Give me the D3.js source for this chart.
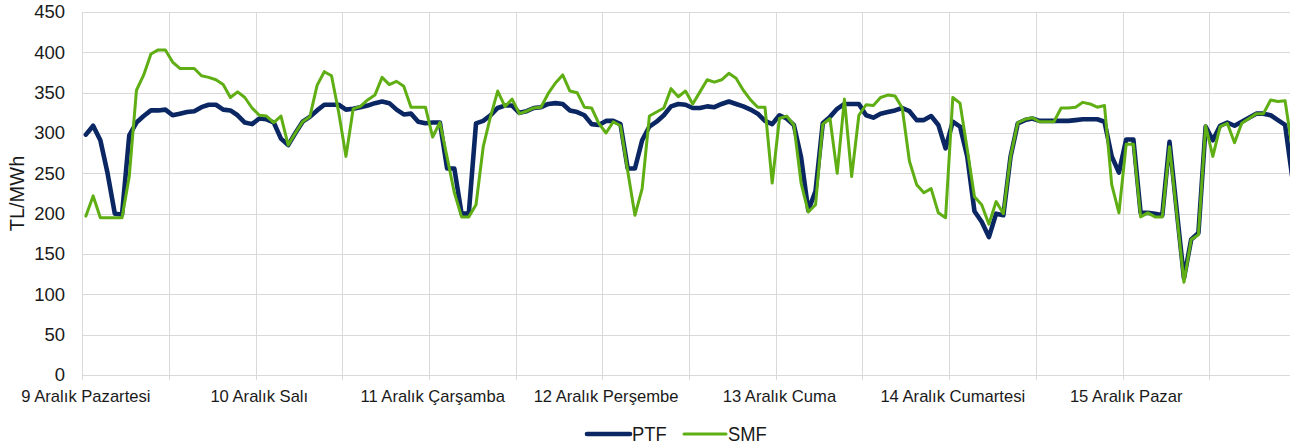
<!DOCTYPE html>
<html>
<head>
<meta charset="utf-8">
<script src="https://cdn.jsdelivr.net/npm/d3@7"></script>
<style>
  html, body { margin: 0; padding: 0; background: #fff; }
  svg { display: block; font-family: "Liberation Sans", Arial, sans-serif; }
</style>
</head>
<body>
<svg id="chart" width="1290" height="448"></svg>
<script>
const dayLabels = ["9 Aralık Pazartesi", "10 Aralık Salı", "11 Aralık Çarşamba", "12 Aralık Perşembe",
                   "13 Aralık Cuma", "14 Aralık Cumartesi", "15 Aralık Pazar"];
const hoursPerDay = 24;
const seriesNames = ["PTF", "SMF"];
const yTicks = [0, 50, 100, 150, 200, 250, 300, 350, 400, 450];
const yTitle = "TL/MWh";

const ptf = [
  298, 309, 291, 250, 200, 199, 297, 313, 321, 328, 328, 329, 322, 324, 326, 327, 332, 335, 335, 329, 328, 322, 313, 311,
  318, 317, 313, 293, 285, 300, 314, 320, 328, 335, 335, 335, 329, 330, 332, 334, 337, 339, 337, 329, 323, 324, 314, 312,
  313, 313, 256, 256, 200, 200, 312, 315, 322, 331, 334, 334, 325, 327, 331, 332, 336, 337, 336, 328, 326, 322, 311, 310,
  315, 315, 311, 256, 256, 291, 308, 314, 322, 333, 336, 335, 331, 331, 333, 332, 336, 339, 336, 333, 329, 324, 315, 311,
  322, 318, 310, 270, 204, 228, 312, 320, 330, 336, 336, 336, 322, 319, 324, 326, 328, 331, 327, 316, 316, 321, 310, 281,
  314, 308, 271, 203, 190, 171, 200, 198, 271, 312, 316, 318, 315, 315, 315, 315, 315, 316, 317, 317, 317, 314, 271, 251,
  292, 292, 201, 201, 200, 198, 289, 204, 120, 168, 176, 308, 291, 309, 313, 309, 314, 319, 324, 324, 322, 316, 310, 245
];
const smf = [
  197, 222, 195, 195, 195, 195, 246, 353, 372, 398, 403, 403, 388, 380, 380, 380, 371, 369, 366, 360, 344, 351, 344, 331,
  322, 321, 313, 321, 285, 300, 314, 320, 359, 376, 371, 325, 271, 330, 333, 341, 347, 369, 360, 364, 358, 332, 332, 332,
  295, 313, 270, 226, 196, 196, 211, 283, 320, 352, 333, 342, 324, 327, 331, 332, 349, 362, 372, 352, 350, 332, 331, 312,
  300, 314, 309, 253, 198, 231, 321, 326, 331, 355, 345, 352, 336, 351, 366, 363, 366, 374, 368, 353, 341, 332, 332, 238,
  318, 321, 310, 238, 202, 211, 311, 318, 250, 342, 246, 322, 335, 334, 344, 347, 346, 331, 265, 236, 226, 231, 201, 195,
  344, 337, 280, 221, 211, 187, 215, 200, 271, 313, 317, 319, 314, 314, 314, 331, 331, 332, 338, 336, 332, 334, 236, 201,
  286, 286, 196, 201, 196, 196, 283, 200, 115, 168, 174, 309, 271, 308, 312, 288, 312, 318, 324, 324, 341, 339, 340, 280
];
const seriesColors = ["#0b2763", "#5fae14"];

const svg = d3.select("#chart");
const nCat = dayLabels.length * hoursPerDay;
const left = 82.3, catW = 7.224;
const plotTop = 12, plotBottom = 375;

const x = d3.scaleBand().domain(d3.range(nCat)).range([left, left + nCat * catW]).padding(0);
const bw = x.bandwidth();
const y = d3.scaleLinear().domain([0, 450]).range([plotBottom, plotTop]);

// horizontal gridlines
svg.append("g").selectAll("line").data(yTicks).join("line")
  .attr("x1", left).attr("x2", left + nCat * catW)
  .attr("y1", d => Math.round(y(d)) + 0.5).attr("y2", d => Math.round(y(d)) + 0.5)
  .attr("stroke", "#d9d9d9").attr("stroke-width", 1);

// vertical gridlines every 12 categories + tick marks
const vIdx = d3.range(0, nCat + 1, 12);
const xb = i => i < nCat ? x(i) : x(nCat - 1) + bw;
svg.append("g").selectAll("line").data(vIdx).join("line")
  .attr("x1", d => Math.round(xb(d)) + 0.5).attr("x2", d => Math.round(xb(d)) + 0.5)
  .attr("y1", plotTop).attr("y2", plotBottom + 5)
  .attr("stroke", "#d9d9d9").attr("stroke-width", 1);

// y tick labels
svg.append("g").selectAll("text").data(yTicks).join("text")
  .attr("x", 65).attr("y", d => y(d))
  .attr("dy", "0.35em")
  .attr("text-anchor", "end")
  .attr("font-size", 18.5)
  .attr("fill", "#1a1a1a")
  .text(d => d);

// y title
svg.append("text")
  .attr("transform", `translate(17,${(y(0) + y(450)) / 2}) rotate(-90)`)
  .attr("text-anchor", "middle").attr("dy", "0.35em")
  .attr("font-size", 20).attr("fill", "#1a1a1a")
  .text(yTitle);

// x labels
svg.append("g").selectAll("text").data(dayLabels).join("text")
  .attr("x", (d, k) => x(k * hoursPerDay) + bw / 2)
  .attr("y", 402)
  .attr("text-anchor", "middle")
  .attr("font-size", 16.6)
  .attr("fill", "#1a1a1a")
  .text(d => d);

// lines
const line = d3.line().x((d, i) => x(i) + bw / 2).y(d => y(d));
const series = [ptf, smf];
const widths = [4.6, 3];
svg.append("g").selectAll("path").data(series).join("path")
  .attr("d", d => line(d))
  .attr("fill", "none")
  .attr("stroke", (d, i) => seriesColors[i])
  .attr("stroke-width", (d, i) => widths[i])
  .attr("stroke-linejoin", "round")
  .attr("stroke-linecap", "round");

// legend
const legendItems = [
  { name: seriesNames[0], color: seriesColors[0], w: 4.6, x0: 587, x1: 630, tx: 632 },
  { name: seriesNames[1], color: seriesColors[1], w: 3, x0: 684, x1: 726, tx: 728 }
];
const lg = svg.append("g");
legendItems.forEach(it => {
  lg.append("line").attr("x1", it.x0).attr("x2", it.x1).attr("y1", 434).attr("y2", 434)
    .attr("stroke", it.color).attr("stroke-width", it.w).attr("stroke-linecap", "round");
  lg.append("text").attr("transform", `translate(${it.tx},434) scale(0.92,1)`)
    .attr("dy", "0.35em").attr("font-size", 20).attr("fill", "#1a1a1a").text(it.name);
});
</script>
</body>
</html>
